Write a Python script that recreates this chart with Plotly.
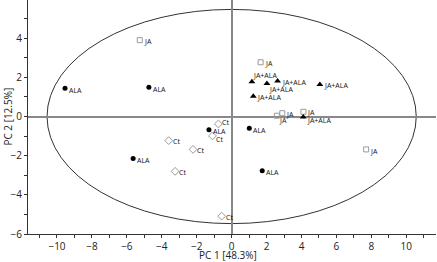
import plotly.graph_objects as go

# Data (PC1, PC2)
ala_x = [-9.54, -4.74, -5.64, -1.30, 1.01, 1.75]
ala_y = [1.44, 1.49, -2.15, -0.67, -0.60, -2.77]

ct_x = [-0.76, -1.10, -3.60, -2.21, -3.24, -0.57]
ct_y = [-0.38, -0.99, -1.23, -1.68, -2.80, -5.09]

ja_x = [-5.26, 1.66, 2.59, 2.90, 4.11, 7.70]
ja_y = [3.90, 2.77, 0.04, 0.17, 0.24, -1.68]

jaala_x = [1.16, 2.02, 2.63, 5.05, 1.24, 4.10]
jaala_y = [1.78, 1.68, 1.81, 1.64, 1.03, -0.03]

# Confidence ellipse half-axes
ell_a = 10.57
ell_b = 5.47

x_ticks = [-10, -8, -6, -4, -2, 0, 2, 4, 6, 8, 10]
y_ticks = [-6, -4, -2, 0, 2, 4]

# label pixel offsets (style only)
ala_off = [(3, -2), (3, -2), (3, -2), (3, -2), (3, -2), (3, -2)]
ct_off = [(3, 1), (3, -4), (3, -1), (3, -1), (3, -1), (3, -1)]
ja_off = [(3, -1), (3, -1), (1, -5), (3, -1), (3, -1), (3, -2)]
jaala_off = [(0, 6), (1, -6), (3, -1), (3, -1), (3, -1), (3, -3)]

FONT = "Open Sans"
gray = "#9a9a9a"

fig = go.Figure()

fig.add_shape(type="circle", xref="x", yref="y", x0=-ell_a, x1=ell_a, y0=-ell_b, y1=ell_b,
              line=dict(color="#333333", width=1), layer="below")

def add(xs, ys, name, offs, symbol, color, size, line_color, line_w):
    fig.add_trace(go.Scatter(
        x=xs, y=ys, mode="markers",
        marker=dict(symbol=symbol, color=color, size=size, line=dict(color=line_color, width=line_w)),
        showlegend=False, hoverinfo="skip"))
    for x, y, (dx, dy) in zip(xs, ys, offs):
        fig.add_annotation(x=x, y=y, text=name, showarrow=False, xanchor="left", yanchor="middle",
                           xshift=dx, yshift=dy, borderpad=0,
                           font=dict(family=FONT, size=7, color="#111111"))

add(ala_x, ala_y, "ALA", ala_off, "circle", "#000000", 5, "#000000", 0)
add(ct_x, ct_y, "Ct", ct_off, "diamond-open", gray, 6, gray, 1)
add(ja_x, ja_y, "JA", ja_off, "square-open", gray, 5, gray, 1)
add(jaala_x, jaala_y, "JA+ALA", jaala_off, "triangle-up", "#000000", 6, "#000000", 0)

axis_common = dict(ticks="outside", ticklen=3, tickcolor="#333", showline=True, linecolor="#333",
                   linewidth=1, showgrid=False, zeroline=True, zerolinecolor="#888",
                   zerolinewidth=1.5, automargin=False,
                   minor=dict(dtick=1, tick0=1, ticks="outside", ticklen=3, tickcolor="#333"),
                   tickfont=dict(family=FONT, size=10, color="#222"))
fig.update_xaxes(range=[-11.66, 11.7], tickvals=x_ticks, **axis_common)
fig.update_yaxes(range=[-6, 5.95], tickvals=y_ticks, **axis_common)

fig.add_annotation(text="PC 1 [48.3%]", xref="paper", yref="paper", x=0.49, y=-0.091,
                   xanchor="center", yanchor="middle", showarrow=False,
                   font=dict(family=FONT, size=10, color="#222"))
fig.add_annotation(text="PC 2 [12.5%]", xref="paper", yref="paper", x=-0.05, y=0.5,
                   xanchor="center", yanchor="middle", textangle=-90, showarrow=False,
                   font=dict(family=FONT, size=10, color="#222"))

fig.update_layout(width=437, height=262, margin=dict(l=28, r=1, t=0, b=28),
                  plot_bgcolor="white", paper_bgcolor="white")

fig.write_html("out.html", config={"displayModeBar": False},
               post_script="document.body.style.margin='0';")
